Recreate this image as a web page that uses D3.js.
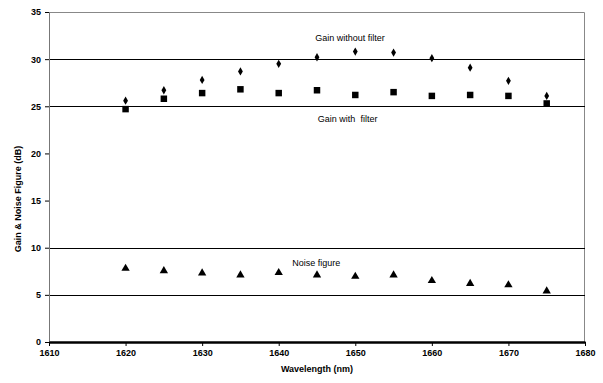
<!DOCTYPE html>
<html>
<head>
<meta charset="utf-8">
<script src="https://cdn.jsdelivr.net/npm/d3@7"></script>
<style>
  body { margin:0; background:#fff; }
  text { font-family: Arial, "Liberation Sans", sans-serif; }
</style>
</head>
<body>
<div class="canvas"></div>
<script>
// data
const wavelengths = [1620, 1625, 1630, 1635, 1640, 1645, 1650, 1655, 1660, 1665, 1670, 1675];
const gainNoFilter = [25.6, 26.7, 27.8, 28.7, 29.5, 30.2, 30.8, 30.7, 30.1, 29.1, 27.7, 26.1];
const gainFilter = [24.7, 25.8, 26.4, 26.8, 26.4, 26.7, 26.2, 26.5, 26.1, 26.2, 26.1, 25.3];
const noiseFigure = [7.8, 7.55, 7.3, 7.1, 7.35, 7.1, 6.95, 7.1, 6.5, 6.2, 6.05, 5.4];
const xTicks = [1610, 1620, 1630, 1640, 1650, 1660, 1670, 1680];
const yTicks = [0, 5, 10, 15, 20, 25, 30, 35];
const gridValues = [5, 10, 25, 30]; // only these have lines in the original

const margin = { top:12, right:18, bottom:41, left:49 };
const width = 603, height = 383;
const graphWidth = width - margin.left - margin.right;
const graphHeight = height - margin.top - margin.bottom;

const svg = d3.select('.canvas').append('svg')
  .attr('width', width)
  .attr('height', height);

const graph = svg.append('g')
  .attr('transform', `translate(${margin.left}, ${margin.top})`);

const x = d3.scaleLinear().domain([1610, 1680]).range([0, graphWidth]);
const y = d3.scaleLinear().domain([0, 35]).range([graphHeight, 0]);

// top + right border (grey)
graph.append('path')
  .attr('d', `M0,0.5H${graphWidth - 0.5}V${graphHeight}`)
  .attr('fill', 'none')
  .attr('stroke', '#888')
  .attr('stroke-width', 1);

// grid lines
graph.selectAll('line.grid')
  .data(gridValues)
  .enter().append('line')
  .attr('class', 'grid')
  .attr('x1', 0).attr('x2', graphWidth)
  .attr('y1', d => Math.round(y(d)) + 0.5)
  .attr('y2', d => Math.round(y(d)) + 0.5)
  .attr('stroke', '#000')
  .attr('stroke-width', 1);

// axes
const xAxis = d3.axisBottom(x).tickValues(xTicks).tickFormat(d3.format('d'))
  .tickSize(4).tickSizeOuter(0).tickPadding(4);
const yAxis = d3.axisLeft(y).tickValues(yTicks).tickSize(4).tickSizeOuter(0).tickPadding(4);

const yAxisGroup = graph.append('g').attr('class', 'y-axis').call(yAxis);
yAxisGroup.select('.domain').attr('stroke', '#777');
yAxisGroup.selectAll('line').attr('stroke', '#000');
yAxisGroup.selectAll('text')
  .attr('font-size', 9).attr('font-weight', 'bold').attr('fill', '#000')
  .attr('font-family', 'Arial, "Liberation Sans", sans-serif');

const xAxisGroup = graph.append('g').attr('class', 'x-axis')
  .attr('transform', `translate(0, ${graphHeight})`).call(xAxis);
xAxisGroup.select('.domain').attr('stroke', '#000').attr('stroke-width', 2.5);
xAxisGroup.selectAll('line').attr('stroke', '#000');
xAxisGroup.selectAll('text')
  .attr('font-size', 9).attr('font-weight', 'bold').attr('fill', '#000')
  .attr('font-family', 'Arial, "Liberation Sans", sans-serif');

// markers
const diamond = d3.symbol().type(d3.symbolDiamond).size(20);
const square = d3.symbol().type(d3.symbolSquare).size(42);
const triangle = d3.symbol().type(d3.symbolTriangle).size(30);

const series = [
  { vals: gainNoFilter, sym: diamond },
  { vals: gainFilter, sym: square },
  { vals: noiseFigure, sym: triangle }
];

series.forEach(s => {
  graph.append('g').selectAll('path')
    .data(wavelengths.map((w, i) => ({ w, v: s.vals[i] })))
    .enter().append('path')
    .attr('d', s.sym)
    .attr('transform', d => `translate(${x(d.w)}, ${y(d.v)})`)
    .attr('fill', '#000');
});

// series labels
const labels = [
  { text: 'Gain without filter', w: 1649.3, v: 31.95 },
  { text: 'Gain with  filter', w: 1649, v: 23.3 },
  { text: 'Noise figure', w: 1644.9, v: 8.1 }
];
graph.selectAll('text.lbl')
  .data(labels)
  .enter().append('text')
  .attr('class', 'lbl')
  .attr('x', d => x(d.w))
  .attr('y', d => y(d.v))
  .attr('text-anchor', 'middle')
  .attr('font-size', 9)
  .attr('fill', '#000')
  .style('white-space', 'pre')
  .text(d => d.text);

// axis titles
svg.append('text')
  .attr('x', margin.left + graphWidth / 2)
  .attr('y', 372)
  .attr('text-anchor', 'middle')
  .attr('font-size', 9).attr('font-weight', 'bold')
  .text('Wavelength (nm)');

svg.append('text')
  .attr('transform', `translate(21, ${margin.top + graphHeight / 2 + 22}) rotate(-90)`)
  .attr('text-anchor', 'middle')
  .attr('font-size', 9).attr('font-weight', 'bold')
  .text('Gain & Noise Figure (dB)');
</script>
</body>
</html>
